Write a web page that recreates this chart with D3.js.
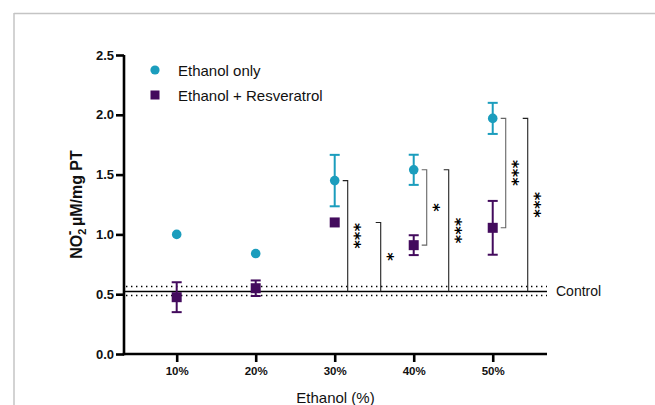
<!DOCTYPE html>
<html><head><meta charset="utf-8">
<script src="https://cdnjs.cloudflare.com/ajax/libs/d3/7.8.5/d3.min.js"></script>
<style>
html,body{margin:0;padding:0;background:#fff;}
svg{display:block;font-family:"Liberation Sans",Arial,sans-serif;}
</style></head>
<body>
<svg id="chart" width="655" height="405"></svg>
<script>
// ---- data ----
const categories = ["10%", "20%", "30%", "40%", "50%"];
const ethanolMean = [1.00, 0.84, 1.45, 1.54, 1.97];
const ethanolErr  = [0, 0, 0.215, 0.126, 0.13];
const resvMean    = [0.475, 0.55, 1.10, 0.91, 1.055];
const resvErr     = [0.125, 0.065, 0, 0.083, 0.225];
const controlMean  = 0.523;
const controlLower = 0.489;
const controlUpper = 0.565;
const yTicks = [0, 0.5, 1.0, 1.5, 2.0, 2.5];
const seriesNames = ["Ethanol only", "Ethanol + Resveratrol"];
// significance brackets: category index, top series, bottom ("control" or series), label
const bracketCat    = [2, 2, 3, 3, 4, 4];
const bracketTop    = ["eth", "resv", "eth", "eth", "eth", "eth"];
const bracketBottom = ["control", "control", "resv", "control", "resv", "control"];
const bracketLabel  = ["***", "*", "*", "***", "***", "***"];

// ---- layout ----
const svg = d3.select("#chart");
const cyan = "#1b9dbd", purple = "#430b5d";
const x0 = 124, x1 = 547, yTop = 55, yBot = 354;
const x = d3.scaleLinear().domain([0.333, 5.687]).range([x0, x1]);
const y = d3.scaleLinear().domain([0, 2.5]).range([yBot, yTop]);

// frame
svg.append("line").attr("x1",14).attr("x2",655).attr("y1",13.5).attr("y2",13.5).attr("stroke","#c4c4c4").attr("stroke-width",1.5);
svg.append("line").attr("x1",14).attr("x2",14).attr("y1",13).attr("y2",405).attr("stroke","#c4c4c4").attr("stroke-width",1.5);

// control lines
svg.append("line").attr("x1",x0).attr("x2",x1).attr("y1",y(controlMean)).attr("y2",y(controlMean))
  .attr("stroke","#000").attr("stroke-width",1.6);
[controlLower, controlUpper].forEach(v => {
  svg.append("line").attr("x1",x0+2).attr("x2",x1).attr("y1",y(v)).attr("y2",y(v))
    .attr("stroke","#000").attr("stroke-width",1.4).attr("stroke-dasharray","1.4 3.6");
});
svg.append("text").attr("x",556).attr("y",y(controlMean)+5).attr("font-size",14).attr("fill","#111").text("Control");

// axes
const yAxis = d3.axisLeft(y).tickValues(yTicks).tickFormat(d3.format(".1f")).tickSize(8).tickPadding(2);
const gy = svg.append("g").attr("transform",`translate(${x0},0)`).call(yAxis);
gy.select(".domain").attr("stroke","#000").attr("stroke-width",2.6).attr("d",`M0,${yTop}V${yBot+1.3}`);
gy.selectAll(".tick line").attr("stroke","#000").attr("stroke-width",2.6);
gy.selectAll(".tick text").attr("font-size",13).attr("font-weight","bold").attr("fill","#111")
  .attr("font-family","Liberation Sans, Arial, sans-serif");

const xAxis = d3.axisBottom(x).tickValues([1,2,3,4,5]).tickFormat((d,i)=>categories[i]).tickSize(8).tickPadding(5);
const gx = svg.append("g").attr("transform",`translate(0,${yBot})`).call(xAxis);
gx.select(".domain").attr("stroke","#000").attr("stroke-width",2.6).attr("d",`M${x0-1.3},0H${x1}`);
gx.selectAll(".tick line").attr("stroke","#000").attr("stroke-width",2.6);
gx.selectAll(".tick text").attr("font-size",11.5).attr("font-weight","bold").attr("fill","#111")
  .attr("font-family","Liberation Sans, Arial, sans-serif");

// axis titles
svg.append("text").attr("x",(x0+x1)/2).attr("y",403).attr("text-anchor","middle").attr("font-size",15).attr("fill","#111").text("Ethanol (%)");
const yt = svg.append("text").attr("transform",`translate(82,${(yTop+yBot)/2}) rotate(-90)`)
  .attr("text-anchor","middle").attr("font-size",16).attr("font-weight","bold").attr("fill","#111");
yt.append("tspan").text("NO");
yt.append("tspan").attr("font-size",11).attr("dy",4).text("2");
yt.append("tspan").attr("font-size",14).attr("dx",-6.5).attr("dy",-12).text("-");
yt.append("tspan").attr("dy",8).text(" µM/mg PT");

// brackets
const valOf = (s, i) => s === "control" ? controlMean : (s === "eth" ? ethanolMean[i] : resvMean[i]);
const laneOffset = (k) => {
  const first = bracketCat.indexOf(bracketCat[k]) === k;
  return first ? 13 : (bracketCat[k] === 2 ? 46 : 35);
};
bracketCat.forEach((c, k) => {
  const bx = x(c + 1) + laneOffset(k);
  const yt1 = y(valOf(bracketTop[k], c));
  const yb1 = y(valOf(bracketBottom[k], c));
  const col = bracketBottom[k] === "control" ? "#222" : "#666";
  let d = `M${bx-5},${yt1}H${bx}V${yb1}`;
  if (bracketBottom[k] !== "control") d += `H${bx-5}`;
  svg.append("path").attr("d", d).attr("fill","none").attr("stroke",col).attr("stroke-width",1.1);
  const my = (yt1 + yb1) / 2;
  svg.append("text").attr("transform",`translate(${bx+1.5},${my}) rotate(90)`)
    .attr("text-anchor","middle").attr("font-size",16).attr("font-weight","bold")
    .attr("font-family","DejaVu Sans, sans-serif")
    .attr("letter-spacing", 0.3).attr("fill","#000").text(bracketLabel[k]);
});

// error bars + points
function drawSeries(means, errs, color, shape) {
  means.forEach((m, i) => {
    const cx = x(i + 1);
    const e = errs[i];
    if (e > 0) {
      const g = svg.append("g").attr("stroke", color).attr("stroke-width", 2);
      g.append("line").attr("x1",cx).attr("x2",cx).attr("y1",y(m+e)).attr("y2",y(m-e));
      g.append("line").attr("x1",cx-5).attr("x2",cx+5).attr("y1",y(m+e)).attr("y2",y(m+e));
      g.append("line").attr("x1",cx-5).attr("x2",cx+5).attr("y1",y(m-e)).attr("y2",y(m-e));
    }
    if (shape === "circle") {
      svg.append("circle").attr("cx",cx).attr("cy",y(m)).attr("r",4.8).attr("fill",color);
    } else {
      svg.append("rect").attr("x",cx-5).attr("y",y(m)-5).attr("width",10).attr("height",10).attr("fill",color);
    }
  });
}
drawSeries(resvMean, resvErr, purple, "square");
drawSeries(ethanolMean, ethanolErr, cyan, "circle");

// legend
svg.append("circle").attr("cx",155).attr("cy",70).attr("r",4.6).attr("fill",cyan);
svg.append("rect").attr("x",150.5).attr("y",90.5).attr("width",9).attr("height",9).attr("fill",purple);
svg.append("text").attr("x",178).attr("y",75.5).attr("font-size",15).attr("fill","#111").text(seriesNames[0]);
svg.append("text").attr("x",178).attr("y",100.5).attr("font-size",15).attr("fill","#111").text(seriesNames[1]);
</script>
</body></html>
